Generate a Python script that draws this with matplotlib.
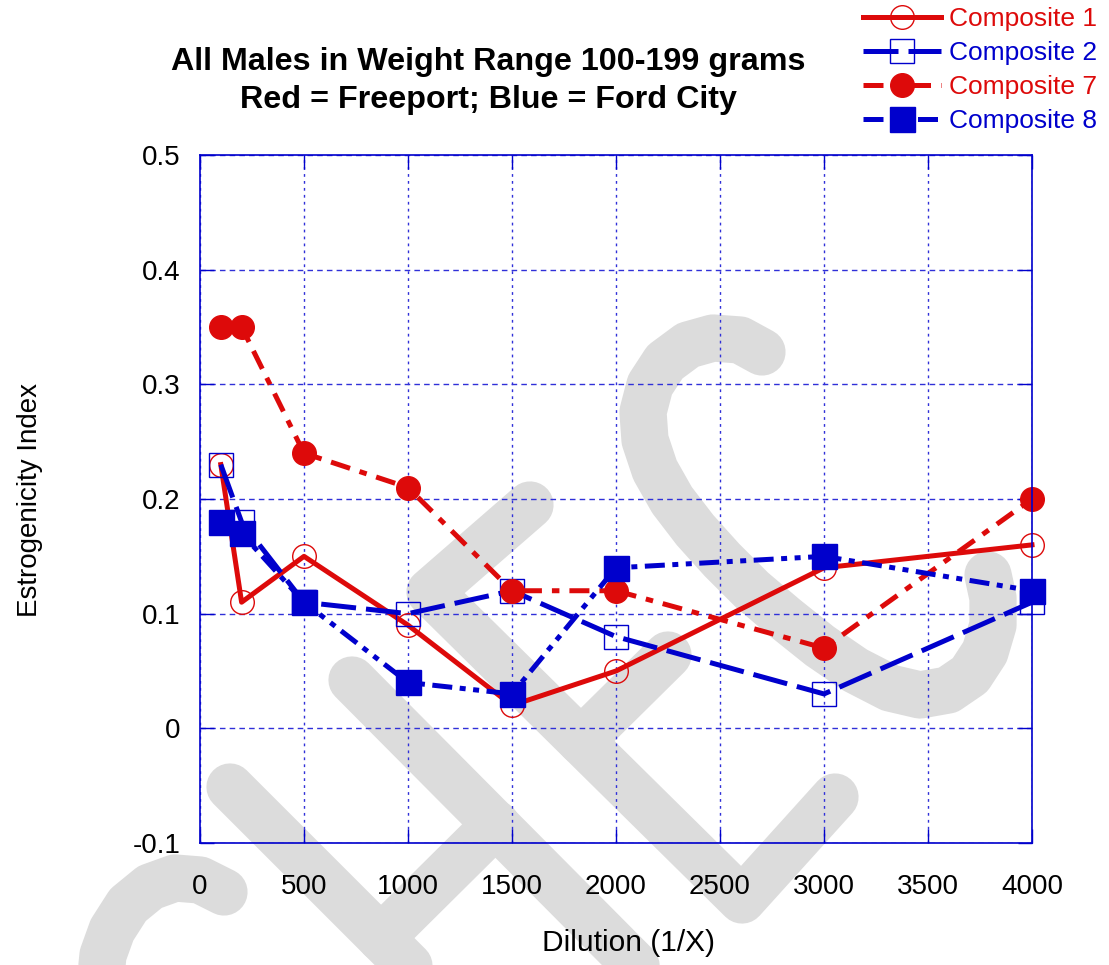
import matplotlib
matplotlib.use('Agg')
import matplotlib.pyplot as plt

plt.rcParams['font.family'] = ['Liberation Sans', 'DejaVu Sans']

# data
dilution = [100, 200, 500, 1000, 1500, 2000, 3000, 4000]
comp1 = [0.23, 0.11, 0.15, 0.09, 0.02, 0.05, 0.14, 0.16]
comp2 = [0.23, 0.18, 0.11, 0.10, 0.12, 0.08, 0.03, 0.11]
comp7 = [0.35, 0.35, 0.24, 0.21, 0.12, 0.12, 0.07, 0.20]
comp8 = [0.18, 0.17, 0.11, 0.04, 0.03, 0.14, 0.15, 0.12]

xticks = [0, 500, 1000, 1500, 2000, 2500, 3000, 3500, 4000]
yticks = [-0.1, 0, 0.1, 0.2, 0.3, 0.4, 0.5]
ytick_labels = ['-0.1', '0', '0.1', '0.2', '0.3', '0.4', '0.5']

RED = '#dd0a0a'
BLUE = '#0000cc'
GRID = '#3030d8'
WM = '#dcdcdc'

# background watermark strokes (pixel coords of the figure)
wm_strokes = [
    # S
    [(762, 352), (740, 340), (713, 338), (688, 345), (665, 362), (650, 385),
     (643, 412), (645, 440), (655, 470), (672, 500), (695, 530), (722, 560),
     (752, 590), (785, 618), (820, 646), (855, 670), (890, 688), (920, 695),
     (948, 690), (970, 675), (985, 652), (993, 625), (993, 598), (988, 575)],
    # E
    [(530, 505), (430, 592), (742, 900), (835, 797)],
    [(581, 741), (668, 655)],
    # H
    [(352, 680), (660, 990)],
    [(230, 787), (430, 987)],
    [(381, 938), (496, 824)],
    # C
    [(224, 892), (200, 880), (175, 878), (150, 887), (128, 905), (112, 930),
     (103, 955), (100, 985)],
]

fig = plt.figure(figsize=(11.09, 9.65), dpi=100)

bg = fig.add_axes([0, 0, 1, 1], zorder=0)
bg.set_xlim(0, 1109)
bg.set_ylim(965, 0)
bg.axis('off')
for pts in wm_strokes:
    xs, ys = zip(*pts)
    bg.plot(xs, ys, color=WM, lw=34, solid_capstyle='round', solid_joinstyle='round')

ax = fig.add_axes([200 / 1109, 122 / 965, 832 / 1109, 688 / 965], zorder=1)
ax.set_facecolor('none')

lw = 3.6
ax.plot(dilution, comp1, color=RED, lw=lw, ls='-', marker='o', ms=17,
        mfc='none', mec=RED, mew=1, label='Composite 1', clip_on=False)
ax.plot(dilution, comp2, color=BLUE, lw=lw, ls=(0, (7, 2)), marker='s', ms=17,
        mfc='none', mec=BLUE, mew=1, label='Composite 2', clip_on=False)
ax.plot(dilution, comp7, color=RED, lw=lw, ls=(0, (4, 2, 1.5, 2)), marker='o', ms=17,
        mfc=RED, mec=RED, label='Composite 7', clip_on=False)
ax.plot(dilution, comp8, color=BLUE, lw=lw, ls=(0, (4, 1.5, 1.2, 1.5, 1.2, 1.5)), marker='s', ms=18,
        mfc=BLUE, mec=BLUE, label='Composite 8', clip_on=False)

ax.set_xlim(0, 4000)
ax.set_ylim(-0.1, 0.5)
ax.set_xticks(xticks)
ax.set_yticks(yticks)
ax.set_yticklabels(ytick_labels)

ax.xaxis.grid(True, color=GRID, lw=1, linestyle=(0, (2, 3)))
ax.yaxis.grid(True, color=GRID, lw=1, linestyle=(0, (4, 3)))

ax.tick_params(direction='in', length=10, width=1, color=BLUE, top=True, right=True,
               labelsize=20, labelcolor='black')
ax.tick_params(axis='x', pad=22)
ax.tick_params(axis='y', pad=14)
for s in ax.spines.values():
    s.set_color(BLUE)
    s.set_linewidth(1.2)

fig.text(488 / 1109, 1 - 62 / 965, 'All Males in Weight Range 100-199 grams',
         ha='center', va='center', fontsize=23.2, fontweight='bold')
fig.text(488 / 1109, 1 - 100 / 965, 'Red = Freeport; Blue = Ford City',
         ha='center', va='center', fontsize=23.2, fontweight='bold')
fig.text(30 / 1109, 1 - 500 / 965, 'Estrogenicity Index', rotation=90,
         ha='center', va='center', fontsize=20)
fig.text(628 / 1109, 1 - 943 / 965, 'Dilution (1/X)', ha='center', va='center', fontsize=21.5)

ax.legend(loc='upper right', bbox_to_anchor=(1097 / 1109, 1 - 7 / 965),
          bbox_transform=fig.transFigure, frameon=False, handlelength=2.95,
          handletextpad=0.3, labelspacing=0.38, borderpad=0, borderaxespad=0,
          fontsize=19, labelcolor='linecolor', numpoints=1)

fig.savefig('out.png', dpi=100)
